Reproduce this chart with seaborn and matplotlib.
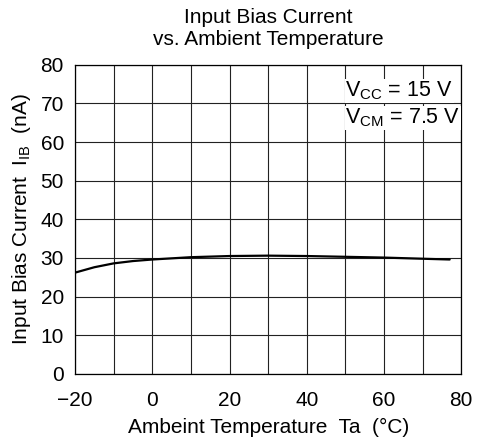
import matplotlib
matplotlib.use("Agg")
import matplotlib.pyplot as plt
import seaborn as sns
import pandas as pd

sns.set_theme(style="white")
plt.rcParams["font.family"] = ["Liberation Sans", "DejaVu Sans"]
plt.rcParams["mathtext.fontset"] = "custom"
plt.rcParams["mathtext.rm"] = "Liberation Sans"
plt.rcParams["text.color"] = "black"
plt.rcParams["axes.labelcolor"] = "black"

# curve
temps = [-20, -15, -10, -5, 0, 10, 20, 30, 40, 50, 60, 70, 77]
ib_na = [26.2, 27.6, 28.6, 29.2, 29.6, 30.2, 30.5, 30.6, 30.5, 30.3, 30.1, 29.8, 29.6]
x_ticks = [-20, 0, 20, 40, 60, 80]
y_ticks = [0, 10, 20, 30, 40, 50, 60, 70, 80]

df = pd.DataFrame({"Ta": temps, "IB": ib_na})

fig = plt.figure(figsize=(4.84, 4.44), dpi=100)
ax = fig.add_axes([0.155, 0.158, 0.798, 0.696])

ax.set_xticks(range(-20, 81, 10), minor=True)
ax.grid(True, which="both", color="#222222", linewidth=0.8)
ax.set_axisbelow(True)

sns.lineplot(data=df, x="Ta", y="IB", color="black", linewidth=1.6, ax=ax)

ax.set_xlim(-20, 80)
ax.set_ylim(0, 80)
ax.set_xticks(x_ticks)
ax.set_yticks(y_ticks)
ax.tick_params(axis="both", which="both", length=0, labelsize=15, colors="black")
ax.tick_params(axis="x", pad=12)
ax.tick_params(axis="y", pad=8)
for s in ax.spines.values():
    s.set_color("black")
    s.set_linewidth(0.9)

ax.set_title("Input Bias Current\nvs. Ambient Temperature", fontsize=15, pad=14, linespacing=1.25)
ax.set_xlabel("Ambeint Temperature  Ta  (°C)", fontsize=15, labelpad=6)
ax.set_ylabel(r"Input Bias Current  I$_{\mathregular{IB}}$  (nA)", fontsize=15)
ax.yaxis.set_label_coords(-0.108, 0.5)

box = dict(facecolor="white", edgecolor="none", pad=0.5)
ax.text(50.0, 73.2, r"V$_{\mathregular{CC}}$ = 15 V", fontsize=15.5, va="center", ha="left", bbox=box)
ax.text(50.0, 66.3, r"V$_{\mathregular{CM}}$ = 7.5 V", fontsize=15.5, va="center", ha="left", bbox=box)

plt.savefig("out.png", dpi=100)
plt.close()
